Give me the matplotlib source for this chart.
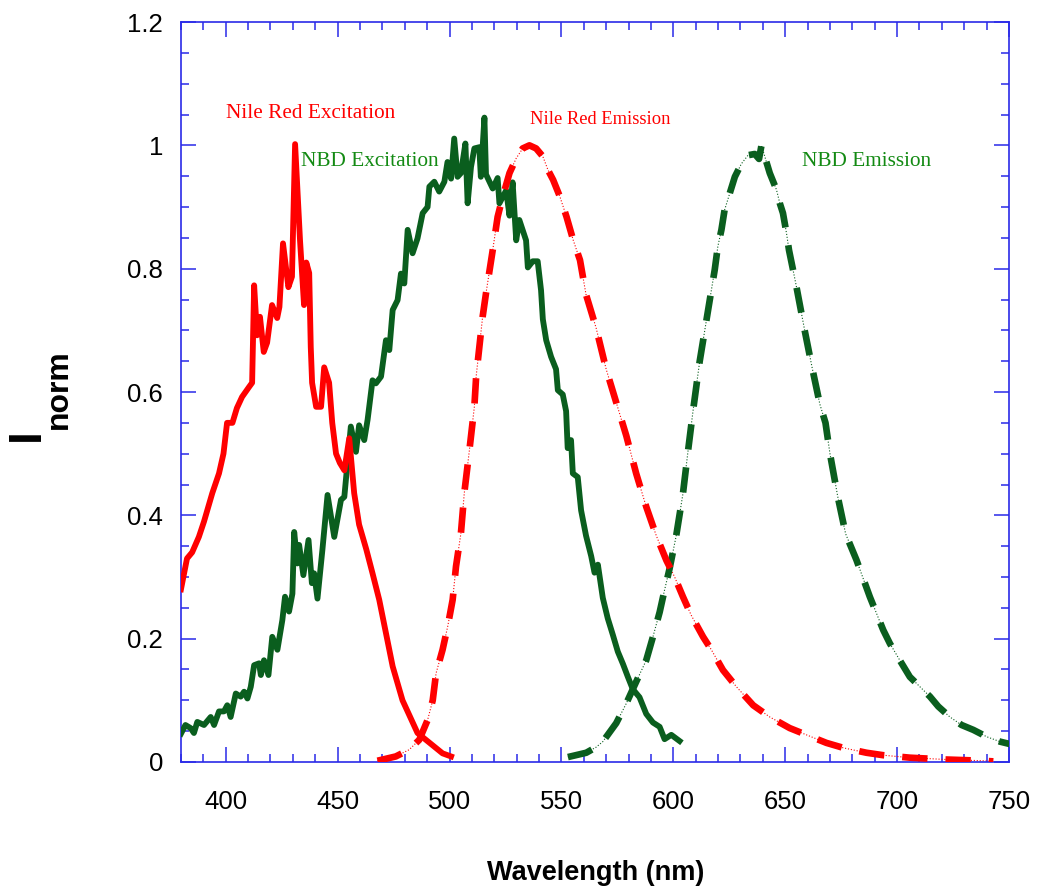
import numpy as np
import matplotlib
matplotlib.use('Agg')
import matplotlib.pyplot as plt
from matplotlib.ticker import MultipleLocator, FuncFormatter

plt.rcParams['font.family'] = ['Liberation Sans', 'DejaVu Sans']

# Nile Red excitation spectrum
nr_ex_wl = [380.0, 382.7, 385.0, 388.0, 390.3, 394.0, 397.0, 399.0, 400.6, 403.0,
            405.0, 407.3, 410.4, 411.8, 412.7, 414.0, 415.3, 417.0, 418.5, 420.7,
            423.0, 424.0, 425.6, 428.0, 429.6, 431.0, 433.2, 435.0, 436.0, 437.3,
            438.0, 438.6, 440.4, 442.6, 444.0, 446.2, 447.6, 449.3, 451.0, 453.0,
            455.2, 457.4, 459.6, 462.8, 465.6, 468.6, 474.6, 479.0, 485.7, 496.9,
            500.7]
nr_ex_int = [0.28, 0.33, 0.34, 0.365, 0.39, 0.436, 0.468, 0.50, 0.55, 0.55,
             0.574, 0.592, 0.608, 0.615, 0.773, 0.692, 0.722, 0.665, 0.68, 0.741,
             0.72, 0.738, 0.841, 0.77, 0.787, 1.002, 0.846, 0.741, 0.81, 0.793,
             0.673, 0.615, 0.576, 0.576, 0.64, 0.615, 0.55, 0.50, 0.485, 0.473,
             0.525, 0.436, 0.385, 0.345, 0.306, 0.263, 0.155, 0.10, 0.047, 0.014,
             0.009]

# NBD excitation spectrum
nbd_ex_wl = [380.0, 382.0, 384.3, 385.8, 387.3, 390.3, 393.3, 394.8, 397.0, 399.2,
             400.7, 402.2, 404.5, 406.7, 408.2, 409.7, 411.2, 412.7, 414.9, 415.7,
             417.1, 419.1, 420.8, 423.1, 425.3, 426.5, 428.3, 429.8, 430.6, 432.0,
             432.8, 434.7, 437.0, 438.5, 439.5, 441.0, 443.2, 445.5, 448.5, 451.5,
             453.0, 455.9, 458.2, 459.6, 461.9, 463.4, 465.6, 467.1, 469.4, 471.6,
             473.1, 474.6, 476.8, 478.3, 479.8, 481.3, 483.5, 485.7, 488.0, 490.2,
             491.0, 493.2, 495.4, 497.7, 499.1, 500.7, 502.1, 503.6, 505.1, 507.1,
             508.1, 509.6, 511.1, 513.3, 514.0, 515.6, 516.3, 519.3, 521.5, 522.3,
             525.3, 526.8, 528.2, 529.8, 531.2, 534.2, 535.0, 537.2, 539.4, 540.9,
             541.7, 543.2, 545.4, 547.6, 548.4, 550.6, 552.1, 552.8, 554.3, 555.1,
             557.3, 558.8, 561.0, 563.3, 564.8, 566.3, 568.5, 570.7, 573.0, 575.2,
             577.5, 579.7, 581.9, 584.9, 587.9, 590.9, 593.9, 596.1, 599.1, 602.8]
nbd_ex_int = [0.046, 0.06, 0.055, 0.047, 0.065, 0.06, 0.073, 0.06, 0.082, 0.082,
              0.092, 0.073, 0.111, 0.106, 0.114, 0.103, 0.122, 0.157, 0.16, 0.141,
              0.165, 0.141, 0.203, 0.182, 0.23, 0.268, 0.244, 0.273, 0.373, 0.322,
              0.352, 0.303, 0.36, 0.29, 0.306, 0.265, 0.344, 0.433, 0.365, 0.425,
              0.43, 0.544, 0.503, 0.546, 0.522, 0.555, 0.619, 0.614, 0.625, 0.684,
              0.668, 0.733, 0.749, 0.792, 0.776, 0.863, 0.825, 0.849, 0.89, 0.90,
              0.933, 0.941, 0.925, 0.941, 0.973, 0.946, 1.011, 0.949, 0.955, 1.003,
              0.906, 0.965, 0.995, 0.997, 0.949, 1.045, 0.953, 0.93, 0.947, 0.906,
              0.927, 0.886, 0.94, 0.846, 0.879, 0.846, 0.802, 0.812, 0.812, 0.765,
              0.718, 0.684, 0.657, 0.637, 0.603, 0.596, 0.569, 0.509, 0.522, 0.468,
              0.462, 0.408, 0.367, 0.334, 0.307, 0.32, 0.266, 0.233, 0.206, 0.179,
              0.159, 0.138, 0.118, 0.105, 0.078, 0.064, 0.057, 0.037, 0.044, 0.034]

# Nile Red emission spectrum
nr_em_wl = [467.8, 476.0, 482.0, 486.5, 490.2, 492.5, 494.0, 496.9, 499.2, 501.4,
            502.9, 505.1, 506.6, 508.9, 511.1, 511.9, 514.8, 516.3, 519.3, 521.5,
            523.8, 526.8, 529.8, 532.7, 535.7, 538.7, 541.7, 544.0, 546.3, 549.3,
            552.3, 555.3, 558.3, 561.0, 565.5, 570.0, 574.5, 579.0, 583.4, 587.9,
            592.4, 596.9, 600.6, 604.3, 608.0, 613.3, 617.0, 622.2, 628.2, 635.7,
            643.1, 652.0, 659.5, 668.4, 675.9, 686.3, 693.8, 705.7, 722.1, 738.5,
            743.0]
nr_em_int = [0.002, 0.009, 0.02, 0.036, 0.068, 0.10, 0.144, 0.182, 0.22, 0.263,
             0.317, 0.371, 0.436, 0.506, 0.576, 0.625, 0.722, 0.76, 0.83, 0.884,
             0.917, 0.955, 0.979, 0.995, 1.0, 0.995, 0.982, 0.96, 0.944, 0.917,
             0.884, 0.846, 0.814, 0.758, 0.704, 0.637, 0.583, 0.529, 0.468, 0.414,
             0.367, 0.327, 0.30, 0.268, 0.238, 0.203, 0.182, 0.149, 0.122, 0.092,
             0.073, 0.055, 0.044, 0.031, 0.023, 0.015, 0.011, 0.007, 0.004, 0.002,
             0.001]

# NBD emission spectrum
nbd_em_wl = [552.9, 561.1, 565.5, 568.5, 574.5, 579.0, 583.4, 587.9, 590.9, 593.9,
             596.1, 598.3, 601.3, 604.3, 606.5, 608.8, 611.8, 617.0, 618.5, 619.9,
             621.5, 622.9, 625.2, 627.5, 630.4, 633.4, 636.4, 638.3, 639.4, 641.6,
             643.1, 646.1, 647.6, 649.0, 650.6, 651.7, 653.5, 655.0, 658.7, 662.0,
             665.5, 668.0, 670.0, 673.5, 677.0, 681.8, 684.0, 687.8, 690.8, 693.8,
             696.8, 701.2, 705.7, 710.2, 714.7, 718.4, 723.6, 728.8, 734.1, 740.0,
             746.0, 750.5]
nbd_em_int = [0.008, 0.015, 0.024, 0.033, 0.063, 0.095, 0.13, 0.165, 0.203, 0.243,
              0.279, 0.313, 0.367, 0.435, 0.502, 0.569, 0.65, 0.765, 0.798, 0.836,
              0.863, 0.895, 0.922, 0.949, 0.97, 0.984, 0.986, 0.978, 1.0, 0.973,
              0.955, 0.928, 0.906, 0.89, 0.857, 0.83, 0.798, 0.771, 0.70, 0.64,
              0.58, 0.55, 0.50, 0.43, 0.37, 0.328, 0.306, 0.268, 0.241, 0.214,
              0.192, 0.165, 0.138, 0.122, 0.106, 0.09, 0.073, 0.06, 0.052, 0.041,
              0.033, 0.029]

RED = '#ff0000'
GREEN = '#0a5e1e'
GREEN_TXT = '#138a13'
AXIS_BLUE = '#2a2ae8'

fig = plt.figure(figsize=(10.37, 8.88), dpi=100)
ax = fig.add_axes([0.1745, 0.1419, 0.7985, 0.8333])


def emission(wl, inten, color):
    # thin dotted trace under thick dashes
    ax.plot(wl, inten, color=color, lw=0.8, ls=':', zorder=2)
    ax.plot(wl, inten, color=color, lw=4.8, dashes=(3.8, 2.7), zorder=3)


ax.plot(nbd_ex_wl, nbd_ex_int, color=GREEN, lw=4.2, solid_joinstyle='round', zorder=3)
emission(nbd_em_wl, nbd_em_int, GREEN)
ax.plot(nr_ex_wl, nr_ex_int, color=RED, lw=4.2, solid_joinstyle='round', zorder=4)
emission(nr_em_wl, nr_em_int, RED)

ax.set_xlim(380, 750)
ax.set_ylim(0, 1.2)
ax.xaxis.set_major_locator(MultipleLocator(50))
ax.xaxis.set_minor_locator(MultipleLocator(10))
ax.yaxis.set_major_locator(MultipleLocator(0.2))
ax.yaxis.set_minor_locator(MultipleLocator(0.05))
ax.yaxis.set_major_formatter(FuncFormatter(lambda v, p: f'{v:g}'))

for s in ax.spines.values():
    s.set_color(AXIS_BLUE)
    s.set_linewidth(1.2)
ax.tick_params(which='both', direction='in', top=True, right=True,
               color=AXIS_BLUE, width=1.1)
ax.tick_params(which='major', length=10.5, labelsize=18.5)
ax.tick_params(which='minor', length=5.5)
ax.tick_params(axis='x', pad=20)
ax.tick_params(axis='y', pad=13)

serif = ['Liberation Serif', 'DejaVu Serif']
ax.text(400.0, 1.044, 'Nile Red Excitation', color=RED, fontsize=15.3,
        family=serif, va='baseline')
ax.text(433.7, 0.966, 'NBD Excitation', color=GREEN_TXT, fontsize=15.3,
        family=serif, va='baseline')
ax.text(536.1, 1.035, 'Nile Red Emission', color=RED, fontsize=13.3,
        family=serif, va='baseline')
ax.text(657.4, 0.966, 'NBD Emission', color=GREEN_TXT, fontsize=15.3,
        family=serif, va='baseline')

fig.text(0.5742, 0.009, 'Wavelength (nm)', fontsize=19.5, fontweight='bold',
         ha='center', va='baseline')
fig.text(0.026, 0.511, 'I', fontsize=33, fontweight='bold', rotation=90,
         ha='center', va='center')
fig.text(0.057, 0.562, 'norm', fontsize=23, fontweight='bold', rotation=90,
         ha='center', va='center')

fig.savefig('out.png', dpi=100)
